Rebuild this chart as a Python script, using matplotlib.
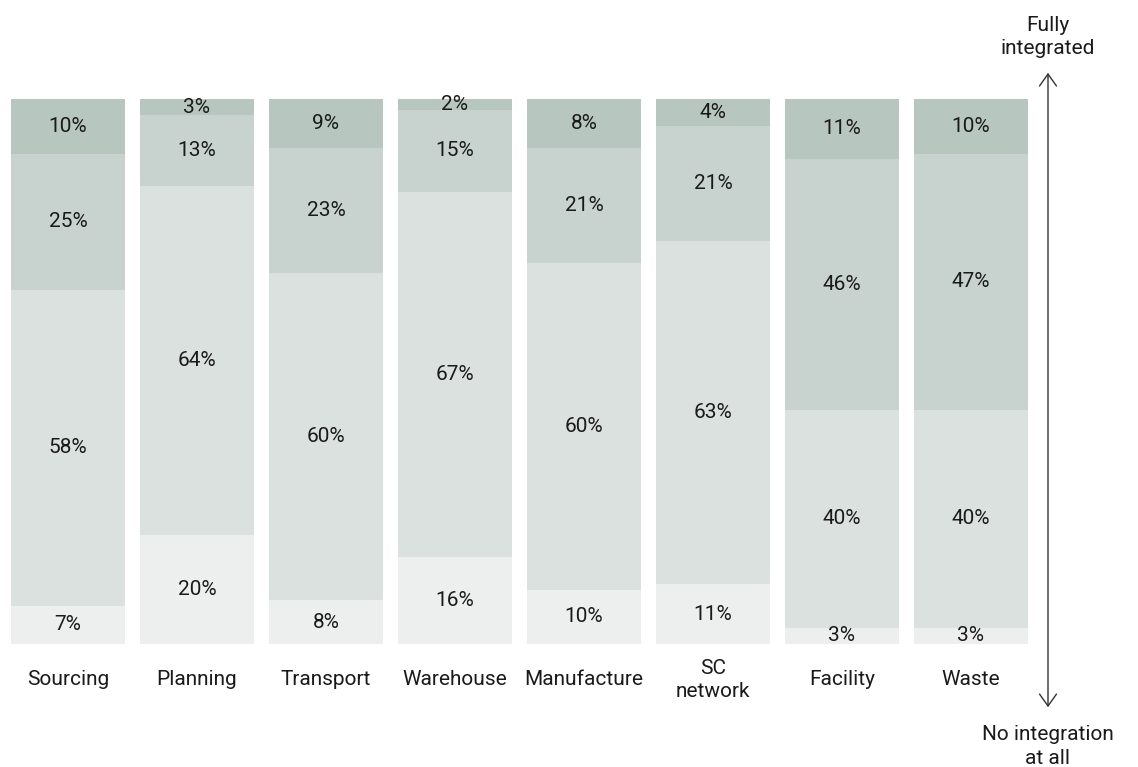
import numpy as np
import matplotlib.pyplot as plt

plt.rcParams['font.family'] = ['Roboto', 'DejaVu Sans']

# categories and shares, bottom (no integration) -> top (fully integrated)
categories = ['Sourcing', 'Planning', 'Transport', 'Warehouse', 'Manufacture',
              'SC\nnetwork', 'Facility', 'Waste']
level1 = [7, 20, 8, 16, 10, 11, 3, 3]
level2 = [58, 64, 60, 67, 60, 63, 40, 40]
level3 = [25, 13, 23, 15, 21, 21, 46, 47]
level4 = [10, 3, 9, 2, 8, 4, 11, 10]

colors = ['#edefee', '#dae1df', '#c8d3cf', '#b8c6c0']
txt = '#1a1a1a'

fig = plt.figure(figsize=(11.38, 7.67), dpi=100)
ax = fig.add_axes([0, 0, 1, 1])

data = np.array([level1, level2, level3, level4], dtype=float)
# rounded labels don't always add to 100 -> top segment takes the rest
heights = data.copy()
heights[3] = 100 - data[:3].sum(axis=0)

x = np.arange(len(categories))
bottom = np.zeros(len(categories))
for vals, labs, c in zip(heights, data, colors):
    ax.bar(x, vals, bottom=bottom, width=0.884, color=c, linewidth=0)
    for xi, b, v, lab in zip(x, bottom, vals, labs):
        ax.text(xi, b + v / 2, f'{int(lab)}%', ha='center', va='center',
                fontsize=15, color=txt)
    bottom += vals

for xi, name in zip(x, categories):
    ax.text(xi, -6.6, name, ha='center', va='center', fontsize=15,
            color=txt, linespacing=1.3)

# side arrow
arr_x = (1048 - 68) / 129
ax.annotate('', xy=(arr_x, 104.8), xytext=(arr_x, -11.6),
            arrowprops=dict(arrowstyle='<->,head_length=0.86,head_width=0.61',
                            color='#333333', lw=1, shrinkA=0, shrinkB=0,
                            mutation_scale=10))
ax.text(arr_x, 111.4, 'Fully\nintegrated', ha='center', va='center', fontsize=15,
        color=txt, linespacing=1.3)
ax.text(arr_x, -18.8, 'No integration\nat all', ha='center', va='center',
        fontsize=15, color=txt, linespacing=1.3)

ax.set_xlim(-68 / 129, (1138 - 68) / 129)
ax.set_ylim(-(767 - 644) / 5.45, 100 + 99 / 5.45)
ax.axis('off')

fig.savefig('out.png', dpi=100)
